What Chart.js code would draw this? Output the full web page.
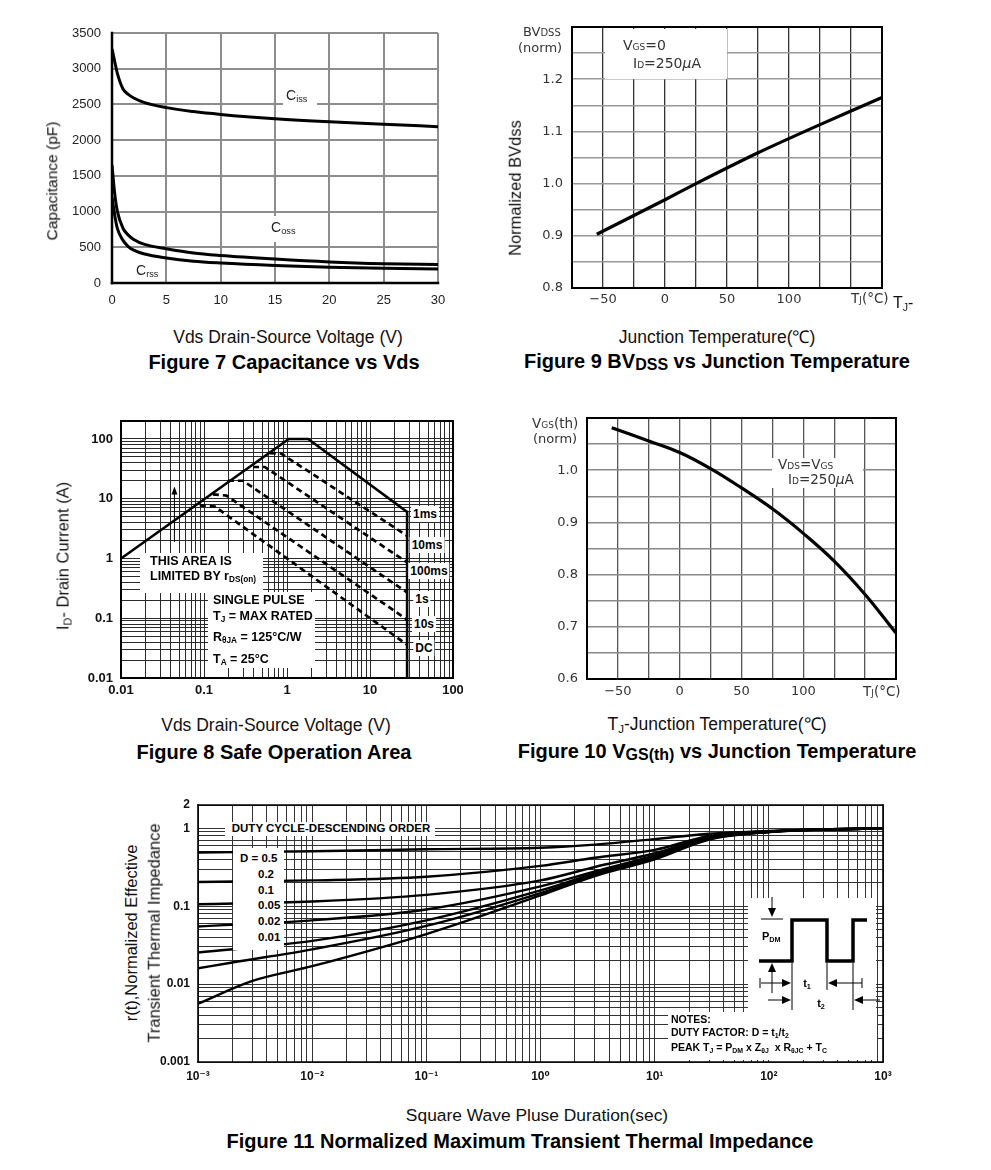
<!DOCTYPE html>
<html><head><meta charset="utf-8"><title>MOSFET characteristic curves</title>
<script src="https://cdn.jsdelivr.net/npm/chart.js@4.4.1/dist/chart.umd.min.js"></script>
<style>
html,body{margin:0;padding:0;background:#fff}
body{width:991px;height:1170px;position:relative;overflow:hidden;font-family:"Liberation Sans",Arial,Helvetica,sans-serif;color:#000}
canvas{position:absolute;display:block}
.t{position:absolute;white-space:nowrap;line-height:1}
.c{transform:translate(-50%,-50%)}
.lm{transform:translate(0,-50%)}
.r90{transform:translate(-50%,-50%) rotate(-90deg)}
.ax{font-size:17.5px;color:#111}
.ti{font-size:20px;font-weight:bold}
.dv{font-family:"DejaVu Sans",sans-serif;color:#333}
.b{font-weight:bold}
.wb{position:absolute;background:#fff}
.sb{font-size:0.66em;vertical-align:-0.28em}
.ts{font-size:0.8em;vertical-align:-0.18em}
.lab{position:absolute;white-space:nowrap;line-height:1;font-weight:bold;font-size:12px;background:#fff;padding:2px 2px;transform:translate(-50%,-50%)}
</style></head>
<body>
<div id="charts"></div>

<!-- Figure 7 texts -->
<div class="t r90" style="left:52px;top:181px;font-size:15.5px;color:#111">Capacitance (pF)</div>
<div class="t c ax" style="left:288px;top:338px">Vds Drain-Source Voltage (V)</div>
<div class="t c ti" style="left:284px;top:362px">Figure 7 Capacitance vs Vds</div>
<div class="wb" style="left:283px;top:89px;width:34px;height:22px"></div>
<div class="t lm" style="left:286px;top:96px;font-size:14px;color:#222">C<span class="sb">iss</span></div>
<div class="wb" style="left:268px;top:216px;width:32px;height:26px"></div>
<div class="t lm" style="left:271px;top:228px;font-size:14px;color:#222">C<span class="sb">oss</span></div>
<div class="t lm" style="left:136px;top:271px;font-size:14px;color:#222">C<span class="sb">rss</span></div>

<!-- Figure 9 texts -->
<div class="t lm dv" style="left:523px;top:31px;font-size:13px">BV<span style="font-size:10px">DSS</span></div>
<div class="t lm dv" style="left:518px;top:47px;font-size:13px">(norm)</div>
<div class="wb" style="left:605px;top:29px;width:122px;height:50px"></div>
<div class="t lm dv" style="left:623px;top:45px;font-size:14px">V<span style="font-size:9px">GS</span>=0</div>
<div class="t lm dv" style="left:633px;top:63px;font-size:14px">I<span style="font-size:9px">D</span>=250<i>μ</i>A</div>
<div class="t r90" style="left:515px;top:188px;font-size:16.5px;color:#111">Normalized BVdss</div>
<div class="t lm dv" style="left:851px;top:299px;font-size:13.5px">T<span style="font-size:9px">J</span>(°C)</div>
<div class="t lm" style="left:893px;top:304px;font-size:16px;color:#111">T<span class="sb">J</span>-</div>
<div class="t c ax" style="left:717px;top:338px">Junction Temperature(℃)</div>
<div class="t c ti" style="left:717px;top:362px">Figure 9 BV<span class="ts">DSS</span> vs Junction Temperature</div>

<!-- Figure 8 texts -->
<div class="t r90" style="left:64px;top:556px;font-size:16.5px;color:#111">I<span class="sb">D</span>- Drain Current (A)</div>
<div class="t c ax" style="left:276px;top:726px">Vds Drain-Source Voltage (V)</div>
<div class="t c ti" style="left:274px;top:752px">Figure 8 Safe Operation Area</div>
<div class="wb" style="left:140px;top:553px;width:123px;height:40px"></div>
<div class="wb" style="left:208px;top:592px;width:107px;height:76px"></div>
<div class="t lm b" style="left:150px;top:561px;font-size:12.5px">THIS AREA IS</div>
<div class="t lm b" style="left:150px;top:577px;font-size:12.5px">LIMITED BY r<span class="sb">DS(on)</span></div>
<div class="t lm b" style="left:213px;top:600px;font-size:12.5px">SINGLE PULSE</div>
<div class="t lm b" style="left:213px;top:617px;font-size:12.5px">T<span class="sb">J</span> = MAX RATED</div>
<div class="t lm b" style="left:213px;top:638px;font-size:12.5px">R<span class="sb">θJA</span> = 125°C/W</div>
<div class="t lm b" style="left:213px;top:660px;font-size:12.5px">T<span class="sb">A</span> = 25°C</div>
<div class="lab" style="left:425px;top:514px">1ms</div>
<div class="lab" style="left:427px;top:545px">10ms</div>
<div class="lab" style="left:429px;top:571px">100ms</div>
<div class="lab" style="left:422px;top:599px">1s</div>
<div class="lab" style="left:424px;top:624px">10s</div>
<div class="lab" style="left:424px;top:648px">DC</div>

<!-- Figure 10 texts -->
<div class="t lm dv" style="left:532px;top:424px;font-size:13.5px">V<span style="font-size:9px">GS</span>(th)</div>
<div class="t lm dv" style="left:533px;top:438px;font-size:13px">(norm)</div>
<div class="wb" style="left:772px;top:458px;width:91px;height:30px"></div>
<div class="t lm dv" style="left:778px;top:465px;font-size:13.5px">V<span style="font-size:9px">DS</span>=V<span style="font-size:9px">GS</span></div>
<div class="t lm dv" style="left:788px;top:480px;font-size:13.5px">I<span style="font-size:9px">D</span>=250<i>μ</i>A</div>
<div class="t lm dv" style="left:863px;top:692px;font-size:13.5px">T<span style="font-size:9px">J</span>(°C)</div>
<div class="t c ax" style="left:717px;top:726px">T<span class="sb">J</span>-Junction Temperature(℃)</div>
<div class="t c ti" style="left:717px;top:752px">Figure 10 V<span class="ts">GS(th)</span> vs Junction Temperature</div>

<!-- Figure 11 texts -->
<div class="t r90" style="left:131px;top:933px;font-size:16.5px;color:#111">r(t),Normalized Effective</div>
<div class="t r90" style="left:154px;top:933px;font-size:16.5px;color:#111">Transient Thermal Impedance</div>
<div class="wb" style="left:225px;top:822px;width:210px;height:14px"></div>
<div class="t c b" style="left:331px;top:829px;font-size:11.5px">DUTY CYCLE-DESCENDING ORDER</div>
<div class="wb" style="left:233px;top:848px;width:51px;height:102px"></div>
<div class="t lm b" style="left:240px;top:859px;font-size:11.5px">D = 0.5</div>
<div class="t lm b" style="left:258px;top:875px;font-size:11.5px">0.2</div>
<div class="t lm b" style="left:258px;top:891px;font-size:11.5px">0.1</div>
<div class="t lm b" style="left:258px;top:906px;font-size:11.5px">0.05</div>
<div class="t lm b" style="left:258px;top:922px;font-size:11.5px">0.02</div>
<div class="t lm b" style="left:258px;top:938px;font-size:11.5px">0.01</div>
<div class="t lm b" style="left:762px;top:937px;font-size:11px">P<span class="sb">DM</span></div>
<div class="t c b" style="left:807px;top:984px;font-size:11px">t<span class="sb">1</span></div>
<div class="t c b" style="left:821px;top:1004px;font-size:11px">t<span class="sb">2</span></div>
<div class="t lm b" style="left:671px;top:1019px;font-size:10.5px">NOTES:</div>
<div class="t lm b" style="left:671px;top:1033px;font-size:10.5px">DUTY FACTOR: D = t<span class="sb">1</span>/t<span class="sb">2</span></div>
<div class="t lm b" style="left:671px;top:1048px;font-size:10.5px">PEAK T<span class="sb">J</span> = P<span class="sb">DM</span> x Z<span class="sb">θJ</span> &nbsp;x R<span class="sb">θJC</span> + T<span class="sb">C</span></div>
<div class="t c" style="left:537px;top:1116px;font-size:17.4px;color:#111">Square Wave Pluse Duration(sec)</div>
<div class="t c ti" style="left:520px;top:1141px">Figure 11 Normalized Maximum Transient Thermal Impedance</div>

<script>
// ---------- Figure 7 : capacitance vs Vds ----------
const capVds  = [0, 0.25, 0.5, 1, 1.5, 2, 3, 5, 7.5, 10, 15, 20, 25, 30];
const capCiss = [3280, 3100, 2930, 2720, 2640, 2590, 2525, 2455, 2400, 2360, 2300, 2257, 2224, 2188];
const capCoss = [1650, 1250, 1000, 770, 670, 610, 540, 480, 420, 385, 335, 295, 270, 258];
const capCrss = [1200, 950, 760, 600, 510, 460, 405, 350, 305, 280, 245, 220, 205, 195];
const capXTickValues = [0, 5, 10, 15, 20, 25, 30];
const capXTickLabels = ['0', '5', '10', '15', '20', '25', '30'];
const capYTickValues = [0, 500, 1000, 1500, 2000, 2500, 3000, 3500];
const capYTickLabels = ['0', '500', '1000', '1500', '2000', '2500', '3000', '3500'];

// ---------- Figure 9 : BVdss vs Tj ----------
const bvTemp = [-55, 0, 25, 75, 125, 175];
const bvNorm = [0.903, 0.969, 1.0, 1.059, 1.113, 1.165];
const tempTickValues = [-50, 0, 50, 100];
const tempTickLabels = ['\u221250', '0', '50', '100'];
const bvYTickValues = [0.8, 0.9, 1.0, 1.1, 1.2];
const bvYTickLabels = ['0.8', '0.9', '1.0', '1.1', '1.2'];

// ---------- Figure 10 : Vgs(th) vs Tj ----------
const vthTemp = [-55, -25, 0, 25, 50, 75, 100, 125, 150, 175];
const vthNorm = [1.0815, 1.056, 1.034, 1.003, 0.966, 0.926, 0.879, 0.826, 0.762, 0.688];
const vthYTickValues = [0.6, 0.7, 0.8, 0.9, 1.0];
const vthYTickLabels = ['0.6', '0.7', '0.8', '0.9', '1.0'];

// ---------- Figure 8 : safe operating area ----------
const soaLimitV = [0.01, 1.05, 1.8, 28, 28];
const soaLimitI = [1, 100, 100, 6, 0.01];
const soa10msV = [0.62, 0.85, 28];   const soa10msI = [58, 57, 2.4];
const soa100msV = [0.39, 0.54, 28];  const soa100msI = [34, 34, 0.86];
const soa1sV = [0.194, 0.295, 28];   const soa1sI = [20, 20, 0.27];
const soa10sV = [0.128, 0.186, 28];  const soa10sI = [11.8, 11.3, 0.095];
const soaDCV = [0.089, 0.135, 28];   const soaDCI = [7.7, 7.4, 0.036];
const soaArrow = {x: 0.044, from: 1.9, to: 16};
const soaTickValues = [0.01, 0.1, 1, 10, 100];
const soaTickLabels = ['0.01', '0.1', '1', '10', '100'];

// ---------- Figure 11 : transient thermal impedance ----------
const zthT = [0.001, 0.01, 0.1, 1, 3, 10, 30, 100, 300, 1000];
const zthD05  = [0.49, 0.51, 0.54, 0.565, 0.62, 0.73, 0.855, 0.93, 0.97, 1.0];
const zthD02  = [0.205, 0.215, 0.24, 0.33, 0.42, 0.53, 0.80, 0.92, 0.97, 1.0];
const zthD01  = [0.106, 0.115, 0.14, 0.215, 0.32, 0.48, 0.77, 0.91, 0.97, 1.0];
const zthD005 = [0.055, 0.066, 0.091, 0.18, 0.28, 0.45, 0.75, 0.91, 0.97, 1.0];
const zthD002 = [0.0255, 0.036, 0.066, 0.16, 0.265, 0.43, 0.74, 0.90, 0.97, 1.0];
const zthT001 = [0.001, 0.002, 0.01, 0.1, 1, 3, 10, 30, 100, 300, 1000];
const zthD001 = [0.016, 0.019, 0.028, 0.056, 0.148, 0.255, 0.41, 0.73, 0.90, 0.97, 1.0];
const zthTSingle = [0.001, 0.003, 0.01, 0.1, 1, 3, 10, 30, 100, 300, 1000];
const zthSingle  = [0.0056, 0.011, 0.017, 0.044, 0.138, 0.245, 0.40, 0.72, 0.90, 0.97, 1.0];
const zthXTickValues = [0.001, 0.01, 0.1, 1, 10, 100, 1000];
const zthXTickLabels = ['10\u207B\u00B3', '10\u207B\u00B2', '10\u207B\u00B9', '10\u2070', '10\u00B9', '10\u00B2', '10\u00B3'];
const zthYTickValues = [0.001, 0.01, 0.1, 1, 2];
const zthYTickLabels = ['0.001', '0.01', '0.1', '1', '2'];

// ---------- helpers ----------
const SANS = '"Liberation Sans", "DejaVu Sans", Arial, sans-serif';
function sameVal(a, b) { return b === 0 ? Math.abs(a) < 1e-9 : Math.abs(a / b - 1) < 1e-6; }
function labeler(vals, labels) { return v => { const i = vals.findIndex(t => sameVal(v, t)); return i < 0 ? '' : labels[i]; }; }
function seq(a, b, step) { const r = []; const n = Math.round((b - a) / step); for (let i = 0; i <= n; i++) r.push(Math.round((a + i * step) * 1e6) / 1e6); return r; }
function logGrid(min, max) {
  const r = [];
  for (let e = Math.floor(Math.log10(min)); e <= Math.ceil(Math.log10(max)); e++)
    for (let m = 1; m <= 9; m++) { const v = Number((m * Math.pow(10, e)).toPrecision(6)); if (v >= min * (1 - 1e-9) && v <= max * (1 + 1e-9)) r.push(v); }
  return r;
}
function pts(xs, ys) { return xs.map((x, i) => ({x: x, y: ys[i]})); }
function place(box) {
  const c = document.createElement('canvas');
  const w = box.yw + (box.R - box.L) + box.pr, h = box.pt + (box.B - box.T) + box.xh;
  c.width = w; c.height = h;
  c.style.left = (box.L - box.yw) + 'px'; c.style.top = (box.T - box.pt) + 'px';
  c.style.width = w + 'px'; c.style.height = h + 'px';
  document.getElementById('charts').appendChild(c);
  return c;
}
function axis(pos, box, o) {
  const horizontal = pos === 'bottom';
  return {
    type: o.log ? 'logarithmic' : 'linear', position: pos, min: o.min, max: o.max,
    afterBuildTicks: s => { s.ticks = o.grid.map(v => ({value: v})); },
    afterFit: s => { if (horizontal) s.height = box.xh; else s.width = box.yw; s.paddingLeft = 0; s.paddingRight = 0; s.paddingTop = 0; s.paddingBottom = 0; },
    border: {display: false},
    grid: {color: o.gridColor, lineWidth: o.gridWidth, drawTicks: false},
    ticks: {autoSkip: false, maxRotation: 0, minRotation: 0, padding: o.pad, font: o.font, color: o.color || '#111', callback: labeler(o.tv, o.tl)}
  };
}
const framePlugin = {
  id: 'frame',
  beforeDatasetsDraw(chart, args, opts) {
    if (!opts || !opts.width) return;
    const ctx = chart.ctx, a = chart.chartArea;
    ctx.save(); ctx.lineWidth = opts.width; ctx.lineCap = 'square';
    const seg = (c, x1, y1, x2, y2) => { if (!c) return; ctx.strokeStyle = c; ctx.beginPath(); ctx.moveTo(x1, y1); ctx.lineTo(x2, y2); ctx.stroke(); };
    seg(opts.top, a.left, a.top, a.right, a.top);
    seg(opts.right, a.right, a.top, a.right, a.bottom);
    seg(opts.bottom, a.left, a.bottom, a.right, a.bottom);
    seg(opts.left, a.left, a.top, a.left, a.bottom);
    ctx.restore();
  }
};
function arrowTo(ctx, x1, y1, x2, y2, len, hw) {
  const a = Math.atan2(y2 - y1, x2 - x1), ca = Math.cos(a), sa = Math.sin(a);
  ctx.beginPath(); ctx.moveTo(x1, y1); ctx.lineTo(x2 - ca * len * 0.8, y2 - sa * len * 0.8); ctx.stroke();
  ctx.beginPath(); ctx.moveTo(x2, y2);
  ctx.lineTo(x2 - ca * len - sa * hw, y2 - sa * len + ca * hw);
  ctx.lineTo(x2 - ca * len + sa * hw, y2 - sa * len - ca * hw);
  ctx.closePath(); ctx.fill();
}
function build(box, datasets, xo, yo, frame, extraPlugins) {
  const canvas = place(box);
  return new Chart(canvas, {
    type: 'line',
    data: {datasets: datasets},
    options: {
      responsive: false, animation: false, devicePixelRatio: 1, events: [],
      layout: {padding: {left: 0, top: box.pt, right: box.pr, bottom: 0}},
      plugins: {legend: {display: false}, tooltip: {enabled: false}, frame: frame},
      scales: {x: axis('bottom', box, xo), y: axis('left', box, yo)},
      elements: {point: {radius: 0}, line: {fill: false}}
    },
    plugins: [framePlugin].concat(extraPlugins || [])
  });
}
function ds(data, w, extra) { return Object.assign({data: data, borderColor: '#000', borderWidth: w, pointRadius: 0, fill: false, cubicInterpolationMode: 'monotone'}, extra || {}); }

// ---------- Figure 7 ----------
const box7 = {L: 112, T: 33, R: 438, B: 283, yw: 70, pt: 10, pr: 12, xh: 32};
build(box7,
  [ds(pts(capVds, capCiss), 3), ds(pts(capVds, capCoss), 3), ds(pts(capVds, capCrss), 3)],
  {min: 0, max: 30, grid: seq(0, 30, 5), tv: capXTickValues, tl: capXTickLabels, gridColor: '#8d8d8d', gridWidth: 2, pad: 10, font: {family: SANS, size: 13}, color: '#222'},
  {min: 0, max: 3500, grid: seq(0, 3500, 500), tv: capYTickValues, tl: capYTickLabels, gridColor: '#8d8d8d', gridWidth: 2, pad: 11, font: {family: SANS, size: 13}, color: '#222'},
  {width: 2.5, left: '#000', bottom: '#000'});

// ---------- Figure 9 ----------
const box9 = {L: 572, T: 27, R: 882, B: 288, yw: 62, pt: 8, pr: 10, xh: 30};
build(box9,
  [ds(pts(bvTemp, bvNorm), 3.2, {cubicInterpolationMode: 'default', tension: 0.2})],
  {min: -75, max: 175, grid: seq(-75, 175, 25), tv: tempTickValues, tl: tempTickLabels, gridColor: '#333', gridWidth: 1.3, pad: 4, font: {family: '"DejaVu Sans", sans-serif', size: 13}, color: '#333'},
  {min: 0.8, max: 1.3, grid: seq(0.8, 1.3, 0.05), tv: bvYTickValues, tl: bvYTickLabels, gridColor: '#999', gridWidth: 1.5, pad: 9, font: {family: '"DejaVu Sans", sans-serif', size: 13}, color: '#333'},
  {width: 2, left: '#000', bottom: '#000', top: '#000', right: '#000'});

// ---------- Figure 8 ----------
const box8 = {L: 121, T: 421, R: 453, B: 678, yw: 60, pt: 8, pr: 10, xh: 30};
const soaArrowPlugin = {
  id: 'soaArrow',
  afterDatasetsDraw(chart) {
    const ctx = chart.ctx, x = chart.scales.x.getPixelForValue(soaArrow.x);
    const y1 = chart.scales.y.getPixelForValue(soaArrow.from), y2 = chart.scales.y.getPixelForValue(soaArrow.to);
    ctx.save(); ctx.strokeStyle = '#000'; ctx.fillStyle = '#000'; ctx.lineWidth = 1;
    arrowTo(ctx, x, y1, x, y2, 8, 3); ctx.restore();
  }
};
const dash = {borderDash: [6, 4], cubicInterpolationMode: 'default', tension: 0};
build(box8,
  [ds(pts(soaLimitV, soaLimitI), 2.6, {cubicInterpolationMode: 'default', tension: 0}),
   ds(pts(soa10msV, soa10msI), 2.7, dash),
   ds(pts(soa100msV, soa100msI), 2.7, dash),
   ds(pts(soa1sV, soa1sI), 2.7, dash),
   ds(pts(soa10sV, soa10sI), 2.7, dash),
   ds(pts(soaDCV, soaDCI), 2.7, dash)],
  {log: true, min: 0.01, max: 100, grid: logGrid(0.01, 100), tv: soaTickValues, tl: soaTickLabels, gridColor: '#2a2a2a', gridWidth: 1, pad: 5, font: {family: SANS, size: 13, weight: 'bold'}, color: '#111'},
  {log: true, min: 0.01, max: 200, grid: logGrid(0.01, 200), tv: soaTickValues, tl: soaTickLabels, gridColor: '#2a2a2a', gridWidth: 1, pad: 8, font: {family: SANS, size: 13, weight: 'bold'}, color: '#111'},
  {width: 2, left: '#000', bottom: '#000', top: '#000', right: '#000'},
  [soaArrowPlugin]);

// ---------- Figure 10 ----------
const box10 = {L: 587, T: 418, R: 896, B: 679, yw: 62, pt: 8, pr: 10, xh: 30};
build(box10,
  [ds(pts(vthTemp, vthNorm), 3.2, {cubicInterpolationMode: 'default', tension: 0.4})],
  {min: -75, max: 175, grid: seq(-75, 175, 25), tv: tempTickValues, tl: tempTickLabels, gridColor: '#555', gridWidth: 1.3, pad: 5, font: {family: '"DejaVu Sans", sans-serif', size: 13}, color: '#333'},
  {min: 0.6, max: 1.1, grid: seq(0.6, 1.1, 0.05), tv: vthYTickValues, tl: vthYTickLabels, gridColor: '#888', gridWidth: 1.5, pad: 9, font: {family: '"DejaVu Sans", sans-serif', size: 13}, color: '#333'},
  {width: 2, left: '#000', bottom: '#000', top: '#000', right: '#000'});

// ---------- Figure 11 ----------
const box11 = {L: 198, T: 805, R: 883, B: 1062, yw: 50, pt: 8, pr: 12, xh: 30};
const pulseInset = {
  id: 'pulseInset',
  afterDatasetsDraw(chart) {
    const ctx = chart.ctx, ox = chart.canvas.offsetLeft, oy = chart.canvas.offsetTop;
    const X = x => x - ox, Y = y => y - oy;
    ctx.save();
    ctx.fillStyle = '#fff';
    ctx.fillRect(X(748), Y(898), 128, 114);
    ctx.fillRect(X(668), Y(1012), 209, 48);
    ctx.strokeStyle = '#000'; ctx.fillStyle = '#000';
    ctx.lineWidth = 3.5; ctx.lineJoin = 'miter'; ctx.lineCap = 'butt';
    ctx.beginPath();
    ctx.moveTo(X(759), Y(961)); ctx.lineTo(X(792), Y(961)); ctx.lineTo(X(792), Y(920)); ctx.lineTo(X(827), Y(920));
    ctx.lineTo(X(827), Y(961)); ctx.lineTo(X(853), Y(961)); ctx.lineTo(X(853), Y(920)); ctx.lineTo(X(867), Y(920));
    ctx.stroke();
    ctx.lineWidth = 1;
    const line = (x1, y1, x2, y2) => { ctx.beginPath(); ctx.moveTo(X(x1), Y(y1)); ctx.lineTo(X(x2), Y(y2)); ctx.stroke(); };
    line(761, 919, 783, 919);
    line(792, 963, 792, 1010); line(827, 963, 827, 990); line(853, 963, 853, 1010);
    line(760, 978, 760, 988); line(862, 978, 862, 988);
    arrowTo(ctx, X(772), Y(897), X(772), Y(917), 9, 4);
    arrowTo(ctx, X(772), Y(993), X(772), Y(963), 9, 4);
    arrowTo(ctx, X(761), Y(983), X(791), Y(983), 9, 4);
    arrowTo(ctx, X(862), Y(983), X(828), Y(983), 9, 4);
    arrowTo(ctx, X(768), Y(1000), X(791), Y(1000), 9, 4);
    arrowTo(ctx, X(880), Y(1000), X(854), Y(1000), 9, 4);
    ctx.restore();
  }
};
build(box11,
  [ds(pts(zthT, zthD05), 2.4), ds(pts(zthT, zthD02), 2.4), ds(pts(zthT, zthD01), 2.4),
   ds(pts(zthT, zthD005), 2.4), ds(pts(zthT, zthD002), 2.4), ds(pts(zthT001, zthD001), 2.4),
   ds(pts(zthTSingle, zthSingle), 2.4)],
  {log: true, min: 0.001, max: 1000, grid: logGrid(0.001, 1000), tv: zthXTickValues, tl: zthXTickLabels, gridColor: '#333', gridWidth: 1, pad: 7, font: {family: SANS, size: 12, weight: 'bold'}, color: '#111'},
  {log: true, min: 0.001, max: 2, grid: logGrid(0.001, 2), tv: zthYTickValues, tl: zthYTickLabels, gridColor: '#333', gridWidth: 1, pad: 8, font: {family: SANS, size: 12, weight: 'bold'}, color: '#111'},
  {width: 1.6, left: '#000', bottom: '#000', top: '#000', right: '#000'},
  [pulseInset]);
</script>
</body></html>
